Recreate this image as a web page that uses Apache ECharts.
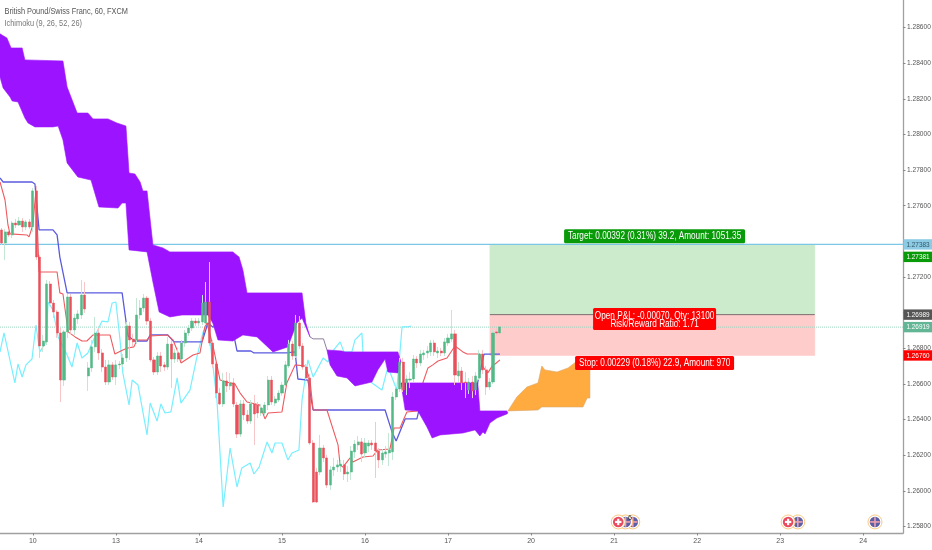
<!DOCTYPE html>
<html>
<head>
<meta charset="utf-8">
<style>html,body{margin:0;padding:0;background:#fff}#chart{width:932px;height:550px}</style>
<script src="https://cdn.jsdelivr.net/npm/echarts@6/dist/echarts.min.js"></script>
</head>
<body>
<div id="chart"></div>
<script>
const chartTitle = 'British Pound/Swiss Franc, 60, FXCM';
const indicatorTitle = 'Ichimoku (9, 26, 52, 26)';
const dayTicks = [9,33,57,81,105,129,153,177,201,225,249];
const dayLabels = ['10','13','14','15','16','17','20','21','22','23','24'];
const priceTicks = [1.258,1.26,1.262,1.264,1.266,1.268,1.27,1.272,1.274,1.276,1.278,1.28,1.282,1.284,1.286];
const priceLabels = [1.258,1.26,1.262,1.264,1.266,1.268,1.272,1.276,1.278,1.28,1.282,1.284,1.286];

const candleOpen = [1.27464,1.27391,1.27453,1.27436,1.27503,1.27492,1.27514,1.27481,1.27509,1.27481,1.27683,1.27312,1.26813,1.26836,1.27161,1.27054,1.27004,1.26886,1.26622,1.26892,1.27088,1.26903,1.26965,1.26987,1.27099,1.26645,1.26690,1.26808,1.26886,1.26774,1.26695,1.26611,1.26707,1.26639,1.26707,1.26712,1.26746,1.26925,1.26852,1.26847,1.26987,1.27026,1.27082,1.26953,1.26735,1.26667,1.26757,1.26707,1.26695,1.26824,1.26740,1.26774,1.26740,1.26830,1.26886,1.26914,1.26953,1.26942,1.26948,1.26942,1.27060,1.26830,1.26712,1.26549,1.26488,1.26617,1.26589,1.26606,1.26482,1.26319,1.26488,1.26426,1.26392,1.26488,1.26482,1.26437,1.26437,1.26482,1.26622,1.26493,1.26510,1.26549,1.26594,1.26701,1.26824,1.26757,1.26942,1.26813,1.26695,1.26634,1.26269,1.26106,1.26106,1.26241,1.26185,1.26033,1.26118,1.26134,1.26140,1.26146,1.26095,1.26106,1.26219,1.26258,1.26275,1.26213,1.26252,1.26269,1.26269,1.26224,1.26174,1.26207,1.26213,1.26219,1.26527,1.26572,1.26723,1.26606,1.26622,1.26628,1.26740,1.26718,1.26763,1.26774,1.26780,1.26830,1.26774,1.26785,1.26774,1.26830,1.26852,1.26881,1.26645,1.26673,1.26611,1.26566,1.26611,1.26566,1.26634,1.26768,1.26679,1.26583,1.26611,1.26892,1.26886];
const candleClose = [1.27391,1.27453,1.27436,1.27503,1.27492,1.27514,1.27481,1.27509,1.27481,1.27683,1.27312,1.26813,1.26841,1.27161,1.27054,1.27004,1.26886,1.26622,1.26892,1.27088,1.26903,1.26970,1.26993,1.27099,1.27021,1.26690,1.26808,1.26886,1.26774,1.26695,1.26611,1.26707,1.26639,1.26707,1.26712,1.26746,1.26925,1.26847,1.26836,1.26987,1.27026,1.27082,1.26953,1.26735,1.26667,1.26757,1.26701,1.26695,1.26824,1.26740,1.26774,1.26740,1.26830,1.26886,1.26914,1.26953,1.26942,1.26953,1.27054,1.27060,1.26830,1.26712,1.26549,1.26488,1.26617,1.26589,1.26606,1.26488,1.26319,1.26488,1.26426,1.26392,1.26488,1.26432,1.26437,1.26465,1.26482,1.26622,1.26499,1.26516,1.26549,1.26594,1.26707,1.26824,1.26757,1.26942,1.26813,1.26695,1.26634,1.26269,1.25938,1.25938,1.26241,1.26185,1.26033,1.26118,1.26134,1.26146,1.26151,1.26095,1.26106,1.26224,1.26263,1.26275,1.26207,1.26269,1.26269,1.26258,1.26224,1.26174,1.26213,1.26219,1.26230,1.26527,1.26572,1.26723,1.26566,1.26628,1.26628,1.26740,1.26718,1.26768,1.26774,1.26785,1.26830,1.26780,1.26785,1.26774,1.26836,1.26858,1.26881,1.26650,1.26673,1.26606,1.26606,1.26611,1.26561,1.26645,1.26768,1.26679,1.26583,1.26611,1.26886,1.26886,1.26920];
const candleHigh = [1.27475,1.27470,1.27464,1.27514,1.27526,1.27537,1.27531,1.27520,1.27526,1.27700,1.27711,1.27324,1.26875,1.27183,1.27178,1.27071,1.27015,1.26914,1.26903,1.27105,1.27105,1.26993,1.27015,1.27183,1.27172,1.26723,1.26847,1.26976,1.26914,1.26796,1.26735,1.26735,1.26723,1.26735,1.26729,1.26768,1.26948,1.26948,1.26881,1.27082,1.27071,1.27105,1.27094,1.26970,1.26751,1.26780,1.26780,1.26723,1.26864,1.26847,1.26796,1.26802,1.26847,1.26903,1.26931,1.26970,1.26970,1.26970,1.27099,1.27172,1.27284,1.26847,1.26729,1.26578,1.26662,1.26667,1.26662,1.26634,1.26499,1.26510,1.26510,1.26454,1.26510,1.26538,1.26499,1.26488,1.26499,1.26645,1.26645,1.26533,1.26566,1.26611,1.26729,1.26847,1.26841,1.26987,1.26981,1.26830,1.26712,1.26656,1.26286,1.26129,1.26314,1.26258,1.26202,1.26140,1.26185,1.26174,1.26174,1.26174,1.26140,1.26252,1.26286,1.26308,1.26297,1.26297,1.26286,1.26286,1.26387,1.26241,1.26235,1.26252,1.26325,1.26555,1.26594,1.26746,1.26746,1.26650,1.26667,1.26763,1.26757,1.26791,1.26791,1.26813,1.26847,1.26847,1.26808,1.26802,1.26858,1.26881,1.27015,1.26903,1.26723,1.26695,1.26667,1.26634,1.26645,1.26667,1.26791,1.26791,1.26701,1.26634,1.26903,1.26914,1.26959];
const candleLow = [1.27380,1.27296,1.27425,1.27419,1.27475,1.27486,1.27453,1.27464,1.27470,1.27453,1.27296,1.26746,1.26780,1.26819,1.27038,1.26970,1.26858,1.26499,1.26589,1.26858,1.26881,1.26875,1.26937,1.26965,1.26998,1.26561,1.26667,1.26780,1.26735,1.26667,1.26594,1.26594,1.26622,1.26594,1.26684,1.26695,1.26723,1.26735,1.26813,1.26824,1.26965,1.27004,1.26931,1.26723,1.26650,1.26650,1.26667,1.26673,1.26679,1.26578,1.26718,1.26723,1.26729,1.26808,1.26869,1.26897,1.26925,1.26925,1.26931,1.26931,1.26813,1.26690,1.26521,1.26482,1.26471,1.26555,1.26566,1.26471,1.26297,1.26303,1.26398,1.26376,1.26376,1.26258,1.26409,1.26420,1.26420,1.26454,1.26482,1.26477,1.26499,1.26533,1.26578,1.26690,1.26735,1.26746,1.26796,1.26679,1.26622,1.26258,1.25932,1.25932,1.26089,1.26162,1.26017,1.26005,1.26084,1.26106,1.26106,1.26061,1.26050,1.26061,1.26185,1.26230,1.26162,1.26185,1.26219,1.26230,1.26073,1.26129,1.26146,1.26185,1.26140,1.26174,1.26510,1.26555,1.26555,1.26538,1.26578,1.26611,1.26690,1.26701,1.26735,1.26746,1.26757,1.26757,1.26746,1.26757,1.26757,1.26813,1.26836,1.26594,1.26611,1.26566,1.26521,1.26544,1.26521,1.26538,1.26622,1.26656,1.26538,1.26566,1.26600,1.26869,1.26875];

const conversionLine = [[-0.5,1.27733],[0.95,1.27632],[1.8,1.27492],[2.4,1.27442],[7.3,1.27436],[7.9,1.27425],[9,1.27492],[9.9,1.27688],[10.8,1.27228],[16,1.27228],[16.8,1.27111],[17.7,1.27105],[19.2,1.26892],[21.2,1.26864],[23.2,1.26841],[24.6,1.26841],[26.4,1.26875],[31.3,1.26875],[32.7,1.26768],[35,1.26791],[36.5,1.26802],[38.2,1.26808],[39.1,1.26847],[42,1.26847],[42.9,1.26869],[47.8,1.26875],[49.5,1.26847],[50.7,1.26791],[51.8,1.26718],[55.3,1.26763],[57.3,1.26774],[58.7,1.2692],[59.3,1.26942],[61,1.26819],[63.1,1.26622],[66,1.26606],[67.4,1.266],[68.9,1.26549],[70.9,1.26499],[74.6,1.26482],[76.1,1.26404],[77,1.26437],[81,1.26443],[82.4,1.26606],[84.8,1.26707],[87.7,1.26701],[89.1,1.26622],[90,1.26454],[94,1.26454],[97.2,1.26258],[97.8,1.26146],[98.6,1.26134],[100.7,1.26185],[101.5,1.26162],[104.4,1.2619],[107.3,1.26196],[108.7,1.2623],[112.2,1.26235],[113.4,1.26353],[115.1,1.26353],[117.1,1.26443],[120.3,1.26449],[121.8,1.26611],[123.2,1.2669],[124.6,1.26707],[126.1,1.26729],[128.7,1.26746],[131,1.26813],[133.3,1.2678],[134.5,1.26768],[138.2,1.26768],[139.1,1.26695],[140.5,1.26662],[142,1.26707],[142.6,1.26712],[144,1.26735]];
const baseLine = [[-0.5,1.27756],[0.4,1.27733],[8.75,1.27733],[9.6,1.27722],[10.8,1.27464],[14.8,1.27464],[16,1.27436],[16.8,1.27312],[18.9,1.27111],[34.8,1.27111],[36.5,1.26869],[38.5,1.26841],[42,1.26841],[42.9,1.26875],[48,1.26875],[49.8,1.26836],[57.9,1.26836],[59.6,1.26942],[61,1.2692],[66.6,1.2692],[68,1.26785],[72,1.26785],[72.9,1.26774],[82.4,1.26774],[84.8,1.2678],[85.6,1.26628],[88.5,1.26622],[90,1.26454],[110.8,1.26454],[112.8,1.26331],[114,1.2628],[116.6,1.26404],[120,1.26404],[122.3,1.26594],[137.4,1.26594],[139.4,1.26768],[144,1.26768]];
const laggingSpan = [[-0.5,1.2678],[0.66,1.26886],[3.8,1.26606],[4.7,1.26712],[5.9,1.26639],[7,1.26707],[8.75,1.2674],[9.9,1.26931],[11,1.2678],[12.8,1.26836],[13.4,1.2706],[14.8,1.27015],[16.3,1.26864],[18.9,1.26763],[20.3,1.26695],[21.8,1.2683],[23.2,1.26746],[24.9,1.26774],[27.5,1.26892],[29,1.26953],[30.7,1.26948],[31.9,1.27054],[33,1.2706],[34.2,1.26847],[35,1.26662],[36.8,1.26482],[37.7,1.26622],[39.4,1.26594],[42,1.26314],[42.9,1.26493],[44.9,1.26392],[46,1.26488],[47.2,1.26437],[48.9,1.26443],[50.7,1.26634],[51.8,1.26493],[54.4,1.26566],[56.4,1.26751],[58.2,1.26892],[59.6,1.26942],[62.2,1.2651],[64,1.2591],[66,1.26241],[68,1.26022],[69.4,1.26129],[71.8,1.26157],[72.9,1.26095],[74.4,1.26134],[76.7,1.26275],[78.1,1.26213],[79,1.26269],[81,1.26269],[82.7,1.26174],[83.9,1.26213],[85.9,1.2623],[86.8,1.2651],[88.5,1.26735],[90,1.26639],[91.1,1.26679],[92.9,1.26746],[94.3,1.26723],[95.5,1.2678],[97.8,1.26836],[98.9,1.2678],[101.2,1.2678],[102.1,1.26847],[104.1,1.26886],[104.4,1.2678],[107,1.26606],[109.9,1.26566],[111.4,1.26679],[112.2,1.26667],[114.2,1.26566],[115.7,1.2692],[117.4,1.2692],[118.3,1.26925]];
const spanLink = [[89.1,1.26864],[90,1.26853],[93,1.26853],[94,1.26791]];

const cloudAUpper = [[-0.5,1.28564],[1.5,1.28541],[2.7,1.28485],[5.9,1.28485],[6.7,1.28418],[17.7,1.28412],[18.9,1.28266],[21.8,1.2812],[24.9,1.2812],[26.4,1.28087],[30.7,1.28087],[33.3,1.28064],[35.9,1.28047],[36.8,1.27784],[38.5,1.27778],[40,1.27733],[40.8,1.27683],[42,1.27683],[43.7,1.2738],[46.6,1.27363],[48.6,1.27341],[66.8,1.27341],[68.6,1.27312],[69.7,1.2724],[70.9,1.27111],[86.8,1.27111],[87.9,1.26942],[89.1,1.26864]];
const cloudALower = [[-0.5,1.28322],[0.4,1.28261],[2.4,1.2821],[3,1.28188],[4.7,1.28182],[6.7,1.28092],[7.6,1.28064],[9.6,1.28042],[14.8,1.28042],[16.3,1.28047],[17.7,1.27969],[18.9,1.2784],[22,1.27761],[25.8,1.27744],[28.1,1.27593],[33.6,1.27587],[34.8,1.27615],[35.9,1.27615],[36.8,1.27352],[42,1.27341],[43.7,1.27172],[45.5,1.27004],[48.6,1.26976],[52.1,1.26987],[59.6,1.26987],[61,1.26942],[62.5,1.26847],[66.8,1.26841],[69.7,1.26875],[73.8,1.26864],[78.4,1.2678],[82.7,1.26808],[85.3,1.26942],[86.8,1.2697],[89.1,1.26864]];
const cloudBUpper = [[94,1.26791],[98.3,1.26785],[99.2,1.2678],[114.5,1.2678],[115.4,1.26723]];
const cloudBLower = [[94,1.26791],[94.9,1.26707],[96.9,1.26645],[99.8,1.26634],[102.1,1.26589],[107,1.26611],[108.7,1.26679],[110.8,1.2674],[111.6,1.26667],[114.5,1.26662],[115.4,1.26723]];
const cloudCUpper = [[115.4,1.26606],[137.6,1.26606],[138.2,1.26449],[146,1.26449],[146.3,1.26437]];
const cloudCLower = [[115.4,1.26606],[115.7,1.26566],[116.6,1.26454],[120.3,1.26449],[122.9,1.26359],[124.4,1.26297],[126.7,1.26314],[133.3,1.26325],[136.8,1.26342],[138.2,1.26308],[139.1,1.26331],[139.7,1.2632],[141.1,1.26381],[143.1,1.26409],[146,1.26432],[146.3,1.26437]];
const cloudOrangeUpper = [[146.3,1.26449],[148.9,1.26527],[151.8,1.26583],[155,1.26606],[156.1,1.26701],[157,1.26679],[160.5,1.26667],[163.7,1.2669],[166.3,1.26729],[170,1.26729]];
const cloudOrangeLower = [[146.3,1.26449],[155,1.26454],[156.1,1.26471],[168,1.26471],[169.2,1.26521],[170,1.26521]];

const cyanLevel = 1.27383, currentLevel = 1.26919;
const entryLevel = 1.26989, targetLevel = 1.27383, stopLevel = 1.2676;
const positionStart = 141.1, positionEnd = 235;

const tagTexts = ['1.27383','1.27381','1.26989','1.26919','1.26760'];
const tagAnchors = [1.27383,1.27313,1.26989,1.26919,1.2676];
const tagFills = ['#8ccbe3','#089a08','#555555','#62b595','#ff0000'];
const tagInks = ['#335566','#ffffff','#ffffff','#ffffff','#ffffff'];

const noteTexts = ['Target: 0.00392 (0.31%) 39.2, Amount: 1051.35','Open P&L: -0.00070, Qty: 13100\nRisk/Reward Ratio: 1.71','Stop: 0.00229 (0.18%) 22.9, Amount: 970'];
const noteBars = [188.7,188.7,188.7];
const notePrices = [1.27429,1.26965,1.26718];
const noteFills = ['#089a08','#ff0000','#ff0000'];

const eventBars = [182.4,180.3,178.2,230.1,227.3,252.4];
const eventKinds = ['uk','uk','ch','uk','ch','uk'];
const eventPrice = 1.25826;
const eventCountBar = 181.6, eventCountPrice = 1.25848, eventCountText = '6';

const FONT = '"Liberation Sans", Arial, sans-serif';
const NARROW = 0.82;
const xMin = -0.5, xMax = 260.5, yMin = 1.25764, yMax = 1.28754;

function lineSeries(name, pts, color, width, z, type) {
  return {type:'line', name, data:pts, z, showSymbol:false, symbol:'none', smooth:false, silent:true,
    lineStyle:{color, width, type:type||'solid'}};
}
function polySeries(name, upper, lower, fill, stroke, z) {
  const pts = upper.concat(lower.slice().reverse());
  return {type:'custom', name, z, silent:true, data:pts, encode:{x:0,y:1},
    renderItem:(p,api)=> p.dataIndex===0 ? {type:'polygon', shape:{points:pts.map(q=>api.coord(q))},
      style:{fill, stroke:stroke||fill, lineWidth:0.6}} : null};
}
const barIdx = candleOpen.map((_,i)=>i);
const wickData = barIdx.map(i=>[i,candleOpen[i],candleClose[i],candleLow[i],candleHigh[i]]);
const bodyData = barIdx.map(i=>[i,candleOpen[i],candleClose[i],Math.min(candleOpen[i],candleClose[i]),Math.max(candleOpen[i],candleClose[i])]);

const chart = echarts.init(document.getElementById('chart'));
chart.setOption({
  animation:false,
  backgroundColor:'#ffffff',
  graphic:[
    {type:'text',x:4.5,y:12,scaleX:NARROW,silent:true,style:{text:chartTitle,x:0,y:0,align:'left',verticalAlign:'middle',fill:'#555',font:'9px '+FONT}},
    {type:'text',x:4.5,y:24,scaleX:NARROW,silent:true,style:{text:indicatorTitle,x:0,y:0,align:'left',verticalAlign:'middle',fill:'#777',font:'9px '+FONT}}
  ],
  grid:{left:0,right:29,top:0,bottom:17,containLabel:false,outerBoundsMode:'none'},
  xAxis:{type:'value',min:xMin,max:xMax,splitLine:{show:false},
    axisLine:{show:true,onZero:false,lineStyle:{color:'#a0a0a0',width:1.3}},
    axisTick:{show:true,length:2.5,lineStyle:{color:'#888'},customValues:dayTicks},
    axisLabel:{customValues:dayTicks,margin:5,fontSize:7,fontFamily:FONT,color:'#555',
      formatter:v=>dayLabels[dayTicks.indexOf(v)]}},
  yAxis:{type:'value',position:'right',min:yMin,max:yMax,splitLine:{show:false},
    axisLine:{show:true,onZero:false,lineStyle:{color:'#a0a0a0',width:1.3}},
    axisTick:{show:true,length:2.5,lineStyle:{color:'#888'},customValues:priceTicks},
    axisLabel:{customValues:priceLabels,margin:4,fontSize:6.6,fontFamily:FONT,color:'#555',
      formatter:v=>v.toFixed(5)}},
  series:[
    polySeries('Target zone',[[positionStart,targetLevel],[positionEnd,targetLevel]],[[positionStart,entryLevel],[positionEnd,entryLevel]],'#cceacc','#cceacc',1),
    polySeries('Stop zone',[[positionStart,entryLevel],[positionEnd,entryLevel]],[[positionStart,stopLevel],[positionEnd,stopLevel]],'#ffcccc','#ffcccc',1),
    lineSeries('Entry',[[positionStart,entryLevel],[positionEnd,entryLevel]],'#7a6e6e',1,2),
    lineSeries('Level',[[xMin,cyanLevel],[xMax,cyanLevel]],'#7cc6e6',1.1,2),
    lineSeries('Last',[[xMin,currentLevel],[xMax,currentLevel]],'#9ad6c0',1,2,'dotted'),
    lineSeries('Lagging Span',laggingSpan,'#77efff',1.2,3),
    lineSeries('Base Line',baseLine,'#5a5ae0',1.3,3),
    lineSeries('Conversion Line',conversionLine,'#ee5a5f',1.1,3),
    polySeries('Cloud A',cloudAUpper,cloudALower,'#9c14ff',null,4),
    lineSeries('Cloud link',spanLink,'#8f7f9f',1,4),
    polySeries('Cloud B',cloudBUpper,cloudBLower,'#9c14ff',null,4),
    polySeries('Cloud C',cloudCUpper,cloudCLower,'#9c14ff',null,4),
    polySeries('Cloud D',cloudOrangeUpper,cloudOrangeLower,'#ffab40','#d9a56a',4),
    {type:'candlestick',name:'Wicks',data:wickData,z:5,silent:true,barWidth:1,encode:{x:0,y:[1,2,3,4]},
      itemStyle:{color:'transparent',color0:'transparent',borderColor:'#c4e6d4',borderColor0:'#f6c6c9',borderWidth:1}},
    {type:'candlestick',name:'Bodies',data:bodyData,z:6,silent:true,barWidth:2.6,encode:{x:0,y:[1,2,3,4]},
      itemStyle:{color:'#53b987',color0:'#e8505b',borderColor:'#53b987',borderColor0:'#e8505b',borderWidth:0.5}},
    {type:'custom',name:'Notes',z:8,silent:true,clip:false,data:noteBars.map((b,i)=>[b,notePrices[i]]),encode:{x:0,y:1},
      renderItem:(p,api)=>{
        const i=p.dataIndex, c=api.coord([noteBars[i],notePrices[i]]);
        const two=noteTexts[i].includes('\n');
        const w=[181,123,159][i], h=two?22:14;
        return {type:'group',children:[
          {type:'rect',shape:{x:c[0]-w/2,y:c[1]-h/2,width:w,height:h,r:1.5},style:{fill:noteFills[i]}},
          {type:'text',x:c[0],y:c[1]+(two?1.5:0),scaleX:NARROW,style:{text:noteTexts[i],x:0,y:0,align:'center',verticalAlign:'middle',
            fill:'#fff',font:'10px '+FONT,lineHeight:8.4}}
        ]};
      }},
    {type:'custom',name:'Events',z:7,silent:true,clip:false,data:eventBars.map(b=>[b,eventPrice]),encode:{x:0,y:1},
      renderItem:(p,api)=>{
        const i=p.dataIndex, c=api.coord([eventBars[i],eventPrice]), ch=eventKinds[i]==='ch';
        const kids=[
          {type:'circle',shape:{cx:c[0],cy:c[1],r:7},style:{fill:'#fff',stroke:'#f7bb62',lineWidth:0.8}},
          {type:'circle',shape:{cx:c[0],cy:c[1],r:5.3},style:{fill:ch?'#e84a5f':'#5b5fa6'}}
        ];
        if(ch){
          kids.push({type:'rect',shape:{x:c[0]-3.2,y:c[1]-1.1,width:6.4,height:2.2},style:{fill:'#fff'}});
          kids.push({type:'rect',shape:{x:c[0]-1.1,y:c[1]-3.2,width:2.2,height:6.4},style:{fill:'#fff'}});
        } else {
          kids.push({type:'rect',shape:{x:c[0]-4.8,y:c[1]-0.8,width:9.6,height:1.6},style:{fill:'#f0a0b0'}});
          kids.push({type:'rect',shape:{x:c[0]-0.8,y:c[1]-4.8,width:1.6,height:9.6},style:{fill:'#f0a0b0'}});
        }
        return {type:'group',children:kids};
      }},
    {type:'custom',name:'Event count',z:8,silent:true,clip:false,data:[[eventCountBar,eventCountPrice]],encode:{x:0,y:1},
      renderItem:(p,api)=>{
        const c=api.coord([eventCountBar,eventCountPrice]);
        return {type:'text',style:{text:eventCountText,x:c[0],y:c[1],align:'center',verticalAlign:'middle',fill:'#333',font:'7px '+FONT}};
      }},
    {type:'custom',name:'Price tags',z:9,silent:true,clip:false,data:tagAnchors.map(a=>[xMax,a]),encode:{x:0,y:1},
      renderItem:(p,api)=>{
        const i=p.dataIndex, c=api.coord([xMax,tagAnchors[i]]);
        return {type:'group',children:[
          {type:'rect',shape:{x:c[0]+0.5,y:c[1]-5.2,width:28.5,height:10.4},style:{fill:tagFills[i]}},
          {type:'text',x:c[0]+15,y:c[1],scaleX:NARROW,style:{text:tagTexts[i],x:0,y:0,align:'center',verticalAlign:'middle',fill:tagInks[i],font:'7.8px '+FONT}}
        ]};
      }}
  ]
});
</script>
</body>
</html>
